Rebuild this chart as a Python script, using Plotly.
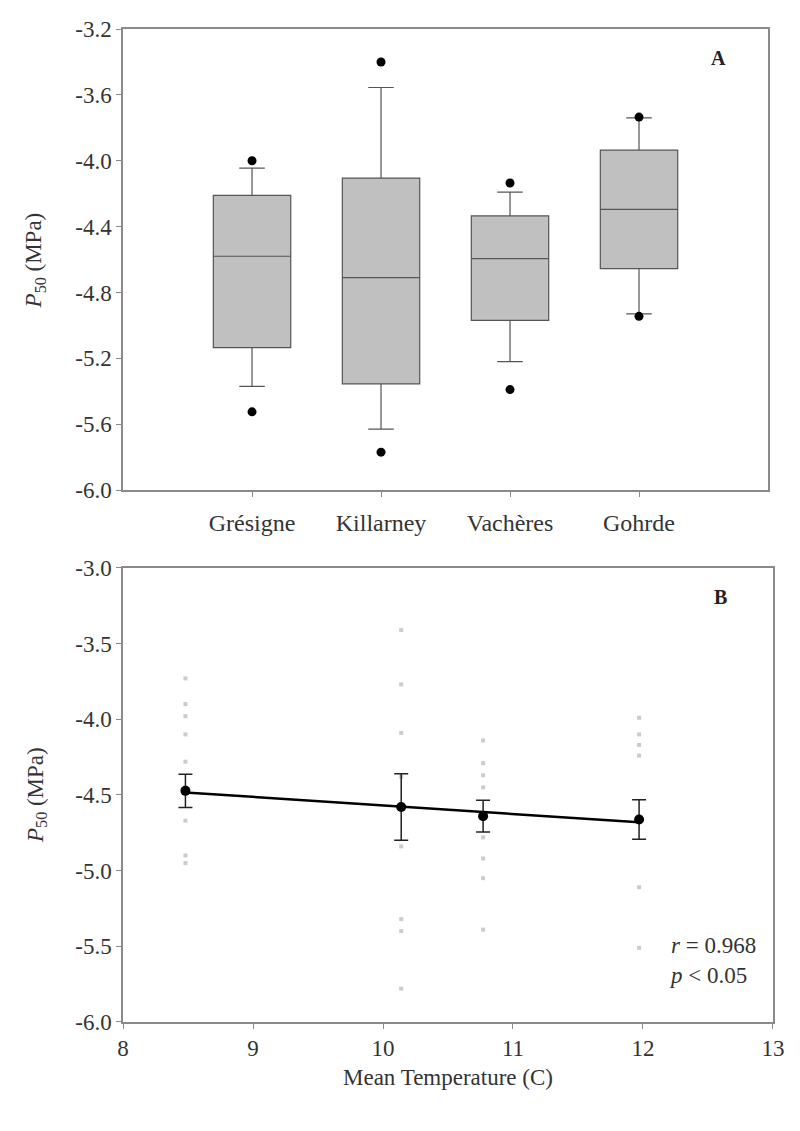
import plotly.graph_objects as go
import numpy as np

# panel A: box plots of P50 per site
sites = ["Grésigne", "Killarney", "Vachères", "Gohrde"]
q1 = [-5.135, -5.355, -4.97, -4.655]
median = [-4.58, -4.71, -4.595, -4.295]
q3 = [-4.21, -4.105, -4.335, -3.935]
whisker_low = [-5.37, -5.63, -5.22, -4.93]
whisker_high = [-4.045, -3.555, -4.19, -3.74]
outlier_low = [-5.525, -5.77, -5.39, -4.945]
outlier_high = [-4.0, -3.4, -4.135, -3.735]

# panel B: site means vs mean temperature (Gohrde, Killarney, Vachères, Grésigne)
temp_mean = [8.48, 10.14, 10.77, 11.97]
p50_mean = [-4.473, -4.58, -4.64, -4.662]
p50_se = [0.11, 0.22, 0.105, 0.13]

# individual trees behind the means
p50_gohrde = [-3.73, -3.90, -3.98, -4.10, -4.28, -4.45, -4.67, -4.90, -4.95]
p50_killarney = [-3.41, -3.77, -4.09, -4.38, -4.84, -5.32, -5.40, -5.78]
p50_vacheres = [-4.14, -4.29, -4.37, -4.45, -4.78, -4.92, -5.05, -5.39]
p50_gresigne = [-3.99, -4.10, -4.17, -4.24, -5.11, -5.51]

ya_ticks = [-6.0, -5.6, -5.2, -4.8, -4.4, -4.0, -3.6, -3.2]
yb_ticks = [-6.0, -5.5, -5.0, -4.5, -4.0, -3.5, -3.0]
xb_ticks = [8, 9, 10, 11, 12, 13]

FONT = "Liberation Serif"
AX = "#8a8a8a"
TXT = "#333333"

fig = go.Figure()

pos = list(range(len(sites)))
fig.add_trace(go.Box(
    x=pos, q1=q1, median=median, q3=q3,
    lowerfence=whisker_low, upperfence=whisker_high,
    width=0.6, whiskerwidth=0.33,
    fillcolor="#c0c0c0", line=dict(color="#555555", width=1.2),
    boxpoints=False, showlegend=False,
    xaxis="x", yaxis="y",
))
fig.add_trace(go.Scatter(
    x=pos + pos, y=outlier_low + outlier_high, mode="markers",
    marker=dict(color="black", size=9), showlegend=False,
    xaxis="x", yaxis="y",
))

# individual points
groups = [p50_gohrde, p50_killarney, p50_vacheres, p50_gresigne]
ind_x, ind_y = [], []
for t, vals in zip(temp_mean, groups):
    ind_x += [t] * len(vals)
    ind_y += vals
fig.add_trace(go.Scatter(
    x=ind_x, y=ind_y, mode="markers",
    marker=dict(color="#cccccc", size=4, symbol="square"),
    showlegend=False, xaxis="x2", yaxis="y2",
))

slope, icept = np.polyfit(temp_mean, p50_mean, 1)
lx = np.array([min(temp_mean), max(temp_mean)])
fig.add_trace(go.Scatter(
    x=lx, y=slope * lx + icept, mode="lines",
    line=dict(color="black", width=2.5), showlegend=False,
    xaxis="x2", yaxis="y2",
))
fig.add_trace(go.Scatter(
    x=temp_mean, y=p50_mean, mode="markers",
    marker=dict(color="black", size=10),
    error_y=dict(type="data", array=p50_se, color="#222222", thickness=1.5, width=7),
    showlegend=False, xaxis="x2", yaxis="y2",
))

axis_style = dict(
    showline=True, linecolor=AX, linewidth=1.5, mirror=True,
    ticks="outside", ticklen=5, tickcolor=AX, tickwidth=1,
    showgrid=False, zeroline=False, automargin=False,
    tickfont=dict(family=FONT, size=23, color=TXT),
)

fig.update_layout(
    width=800, height=1131,
    margin=dict(l=0, r=0, t=0, b=0, autoexpand=False),
    paper_bgcolor="white", plot_bgcolor="white",
    font=dict(family=FONT, color=TXT),
    xaxis=dict(axis_style, domain=[0.1438, 0.95], range=[-1, 4], anchor="y",
               tickvals=pos, ticktext=sites, ticklabelstandoff=5,
               tickfont=dict(family=FONT, size=24, color=TXT)),
    yaxis=dict(axis_style, domain=[0.5738, 0.9814], range=[-6.0, -3.2], anchor="x",
               tickvals=ya_ticks, ticktext=[f"{v:.1f}" for v in ya_ticks]),
    xaxis2=dict(axis_style, domain=[0.1438, 0.9562], range=[8, 13], anchor="y2",
                tickvals=xb_ticks, ticktext=[str(v) for v in xb_ticks]),
    yaxis2=dict(axis_style, domain=[0.1035, 0.5049], range=[-6.0, -3.0], anchor="x2",
                tickvals=yb_ticks, ticktext=[f"{v:.1f}" for v in yb_ticks]),
    annotations=[
        dict(text="<b>A</b>", x=0.8875, y=0.9558, xref="paper", yref="paper",
             xanchor="center", yanchor="middle", showarrow=False,
             font=dict(family=FONT, size=20, color="#222222")),
        dict(text="<b>B</b>", x=0.8912, y=0.4792, xref="paper", yref="paper",
             xanchor="center", yanchor="middle", showarrow=False,
             font=dict(family=FONT, size=20, color="#222222")),
        dict(text="<i>P</i><sub>50</sub> (MPa)", x=0.034, y=0.777, xref="paper", yref="paper",
             xanchor="center", yanchor="middle", textangle=-90, showarrow=False,
             font=dict(family=FONT, size=23, color=TXT)),
        dict(text="<i>P</i><sub>50</sub> (MPa)", x=0.036, y=0.304, xref="paper", yref="paper",
             xanchor="center", yanchor="middle", textangle=-90, showarrow=False,
             font=dict(family=FONT, size=23, color=TXT)),
        dict(text="Mean Temperature (C)", x=0.55, y=0.054, xref="paper", yref="paper",
             xanchor="center", yanchor="middle", showarrow=False,
             font=dict(family=FONT, size=23, color=TXT)),
        dict(text="<i>r</i> = 0.968<br><i>p</i> &lt; 0.05", x=0.824, y=0.158,
             xref="paper", yref="paper", xanchor="left", yanchor="middle",
             align="left", showarrow=False,
             font=dict(family=FONT, size=23, color=TXT)),
    ],
)

fig.write_html("out.html")
